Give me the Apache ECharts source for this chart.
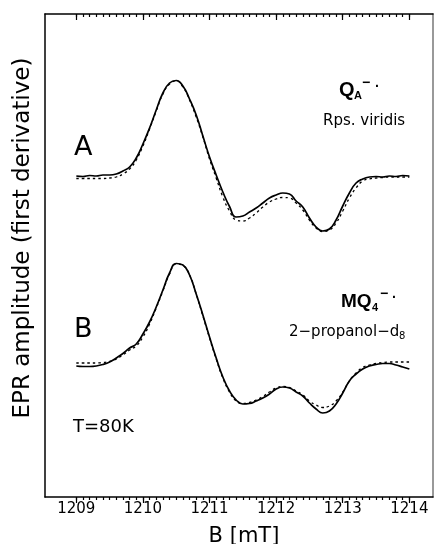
<!DOCTYPE html>
<html>
<head>
<meta charset="utf-8">
<script src="https://cdn.jsdelivr.net/npm/echarts@6/dist/echarts.min.js"></script>
<style>
  html, body { margin: 0; padding: 0; background: #fff; }
  #chart { width: 434px; height: 544px; }
</style>
</head>
<body>
<div id="chart"></div>
<script>
// Magnetic field sampling (mT)
const fieldMT = [
  1209.0, 1209.1, 1209.2, 1209.3, 1209.4, 1209.5, 1209.6, 1209.7, 1209.8, 1209.9,
  1210.0, 1210.1, 1210.2, 1210.3, 1210.4, 1210.5, 1210.6, 1210.7, 1210.8, 1210.9,
  1211.0, 1211.1, 1211.2, 1211.3, 1211.4, 1211.5, 1211.6, 1211.7, 1211.8, 1211.9,
  1212.0, 1212.1, 1212.2, 1212.3, 1212.4, 1212.5, 1212.6, 1212.7, 1212.8, 1212.9,
  1213.0, 1213.1, 1213.2, 1213.3, 1213.4, 1213.5, 1213.6, 1213.7, 1213.8, 1213.9,
  1214.0
];

// Spectrum A: Q_A radical anion in Rps. viridis (offset baseline, arb. units)
const qaMeasured = [
  32.1, 32.05, 32.15, 32.1, 32.2, 32.2, 32.3, 32.6, 33.0, 33.9,
  35.3, 36.9, 38.7, 40.4, 41.4, 41.65, 41.1, 39.8, 38.2, 36.1,
  34.0, 32.2, 30.5, 29.05, 28.0, 28.1, 28.5, 28.9, 29.4, 29.9,
  30.2, 30.4, 30.3, 29.6, 29.0, 27.9, 27.0, 26.6, 26.8, 27.7,
  29.1, 30.4, 31.4, 31.8, 32.0, 32.05, 32.0, 32.1, 32.05, 32.15,
  32.1
];
const qaSimulated = [
  31.85, 31.85, 31.85, 31.85, 31.85, 31.9, 32.0, 32.3, 32.8, 33.7,
  35.1, 36.8, 38.6, 40.3, 41.3, 41.6, 41.0, 39.7, 38.0, 36.0,
  33.8, 31.9, 30.0, 28.6, 27.7, 27.6, 27.9, 28.4, 29.0, 29.5,
  29.8, 29.95, 29.9, 29.4, 28.7, 27.7, 26.9, 26.55, 26.7, 27.4,
  28.6, 29.9, 30.9, 31.6, 31.8, 31.9, 31.95, 32.0, 32.0, 32.0,
  32.0
];

// Spectrum B: MQ4 radical anion in 2-propanol-d8
const mq4Measured = [
  13.1, 13.05, 13.05, 13.1, 13.25, 13.5, 13.9, 14.35, 14.9, 15.3,
  16.3, 17.5, 19.0, 20.7, 22.4, 23.35, 23.2, 22.2, 20.3, 18.2,
  16.0, 13.9, 12.0, 10.6, 9.7, 9.3, 9.35, 9.6, 9.9, 10.3,
  10.8, 11.0, 10.9, 10.5, 10.1, 9.4, 8.8, 8.4, 8.6, 9.3,
  10.4, 11.6, 12.3, 12.8, 13.1, 13.25, 13.35, 13.35, 13.2, 13.0,
  12.8
];
const mq4Simulated = [
  13.4, 13.4, 13.4, 13.4, 13.45, 13.55, 13.8, 14.2, 14.7, 15.1,
  16.0, 17.3, 18.9, 20.6, 22.3, 23.3, 23.15, 22.2, 20.3, 18.1,
  15.9, 13.8, 11.9, 10.5, 9.6, 9.35, 9.45, 9.7, 10.05, 10.5,
  10.9, 11.05, 10.95, 10.6, 10.2, 9.6, 9.2, 8.95, 9.1, 9.6,
  10.5, 11.6, 12.4, 12.95, 13.2, 13.35, 13.45, 13.5, 13.5, 13.5,
  13.5
];

// Axis ticks (mT)
const majorTicks = [1209, 1210, 1211, 1212, 1213, 1214];
const tickLabels = ['1209', '1210', '1211', '1212', '1213', '1214'];
const minorTicks = [];
for (let t = 12090; t <= 12140; t++) minorTicks.push(t / 10);

const FONT = 'DejaVu Sans';
const BOLD = 'Liberation Sans';
const B_MIN = 1208.53, B_MAX = 1214.355;
const Y_MIN = 0, Y_MAX = 48.3;

const pairs = (ys) => fieldMT.map((b, i) => [b, ys[i]]);

function xAxisOf(pos, ticks, len, inside, withLabels, withLine) {
  return {
    type: 'value', position: pos, min: B_MIN, max: B_MAX,
    axisLine: { show: withLine, onZero: false, lineStyle: { color: '#000', width: 1.5 } },
    axisTick: { show: true, customValues: ticks, length: len, inside: inside,
                lineStyle: { color: '#000', width: 1.2 } },
    axisLabel: withLabels ? {
      show: true, customValues: majorTicks, margin: 5,
      formatter: (v) => tickLabels[majorTicks.indexOf(Math.round(v))],
      fontFamily: FONT, fontSize: 15, color: '#000'
    } : { show: false },
    splitLine: { show: false }
  };
}

function yAxisOf(pos, color) {
  return {
    type: 'value', position: pos, min: Y_MIN, max: Y_MAX,
    axisLine: { show: true, onZero: false, lineStyle: { color: color, width: 1.5 } },
    axisTick: { show: false }, axisLabel: { show: false }, splitLine: { show: false }
  };
}

function lineSeries(ys, dashed) {
  return {
    type: 'line', xAxisIndex: 0, yAxisIndex: 0, data: pairs(ys),
    smooth: 0.5, showSymbol: false, silent: true,
    lineStyle: dashed
      ? { color: '#000', width: 1.3, type: [2.5, 3] }
      : { color: '#000', width: 1.7 },
    z: dashed ? 2 : 3
  };
}

function txt(x, y, text, size, opts) {
  opts = opts || {};
  return {
    type: 'text', x: x, y: y, rotation: opts.rotation || 0, silent: true,
    style: {
      text: text, fill: '#000',
      font: (opts.bold ? 'bold ' : '') + size + 'px "' + (opts.family || FONT) + '"',
      textAlign: opts.align || 'left', align: opts.align || 'left',
      textVerticalAlign: 'middle', verticalAlign: 'middle'
    }
  };
}

const chart = echarts.init(document.getElementById('chart'), null, { renderer: 'canvas' });
chart.setOption({
  animation: false,
  backgroundColor: '#fff',
  grid: { left: 45, top: 14, right: 1, bottom: 47, containLabel: false },
  xAxis: [
    xAxisOf('bottom', majorTicks, 6, false, true, true),
    xAxisOf('bottom', minorTicks, 3, false, false, false),
    xAxisOf('top', majorTicks, 6, true, false, true),
    xAxisOf('top', minorTicks, 3, true, false, false)
  ],
  yAxis: [ yAxisOf('left', '#000'), yAxisOf('right', '#777') ],
  series: [
    lineSeries(qaSimulated, true),
    lineSeries(qaMeasured, false),
    lineSeries(mq4Simulated, true),
    lineSeries(mq4Measured, false)
  ],
  graphic: [
    txt(23, 238, 'EPR amplitude (first derivative)', 23, { rotation: Math.PI / 2, align: 'center' }),
    txt(244, 537, 'B [mT]', 21, { align: 'center' }),
    txt(74, 148, 'A', 27),
    txt(74, 330, 'B', 27),
    txt(73, 427, 'T=80K', 18),
    // Q_A radical anion label
    txt(339, 90, 'Q', 20, { bold: true, family: BOLD }),
    txt(354, 96, 'A', 11, { bold: true, family: BOLD }),
    txt(362, 83, '−', 14, { bold: true, family: BOLD }),
    txt(375, 87, '·', 14, { bold: true, family: BOLD }),
    txt(323, 121, 'Rps. viridis', 15),
    // MQ4 radical anion label
    txt(341, 302, 'MQ', 19, { bold: true, family: BOLD }),
    txt(372, 308, '4', 11, { bold: true, family: BOLD }),
    txt(380, 294, '−', 14, { bold: true, family: BOLD }),
    txt(392, 298, '·', 14, { bold: true, family: BOLD }),
    txt(289, 332, '2−propanol−d', 15),
    txt(399, 336, '8', 10)
  ]
});
</script>
</body>
</html>
